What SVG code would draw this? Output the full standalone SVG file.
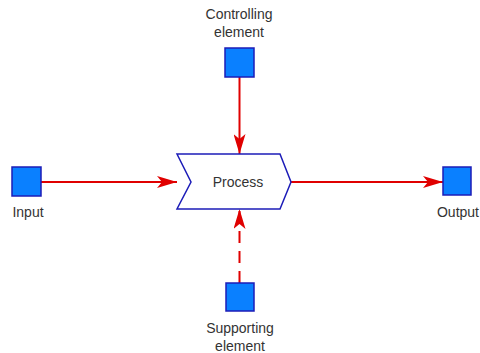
<svg xmlns="http://www.w3.org/2000/svg" width="480" height="353" viewBox="0 0 480 353">
<style>
.sq{fill:#0a80ff;stroke:#1c1cb8;stroke-width:1.5}
.lbl{font-family:"Liberation Sans",Arial,sans-serif;font-size:14px;fill:#333;text-anchor:middle}
.ln{stroke:#e00000;stroke-width:2;fill:none}
</style>
<defs>
<marker id="ah" viewBox="0 0 20 12" refX="20" refY="6" markerWidth="20" markerHeight="12" markerUnits="userSpaceOnUse" orient="auto">
<path d="M0,0 L20,6 L0,12 L5,6 Z" fill="#e00000"/>
</marker>
</defs>
<rect width="480" height="353" fill="#fff"/>
<g id="connectors">
<line class="ln" x1="41" y1="182" x2="177" y2="182" marker-end="url(#ah)"/>
<line class="ln" x1="291" y1="182" x2="443" y2="182" marker-end="url(#ah)"/>
<line class="ln" x1="239.5" y1="77" x2="239.5" y2="154" marker-end="url(#ah)"/>
<line class="ln" x1="239.5" y1="283" x2="239.5" y2="209" stroke-dasharray="12,8" marker-end="url(#ah)"/>
</g>
<g id="process">
<path d="M177,154 L280,154 L291,182 L280,209 L177,209 L191,182 Z" fill="#fff" stroke="#1c1cb8" stroke-width="1.5"/>
<text class="lbl" x="238" y="187">Process</text>
</g>
<g id="input">
<rect class="sq" x="12" y="167" width="29" height="29"/>
<text class="lbl" x="28" y="217">Input</text>
</g>
<g id="output">
<rect class="sq" x="443" y="167" width="28" height="28"/>
<text class="lbl" x="458" y="217">Output</text>
</g>
<g id="controlling">
<rect class="sq" x="225" y="48" width="29" height="29"/>
<text class="lbl" x="239" y="19">Controlling</text>
<text class="lbl" x="239" y="37">element</text>
</g>
<g id="supporting">
<rect class="sq" x="226" y="283" width="28" height="28"/>
<text class="lbl" x="240" y="333">Supporting</text>
<text class="lbl" x="240" y="351">element</text>
</g>
</svg>
